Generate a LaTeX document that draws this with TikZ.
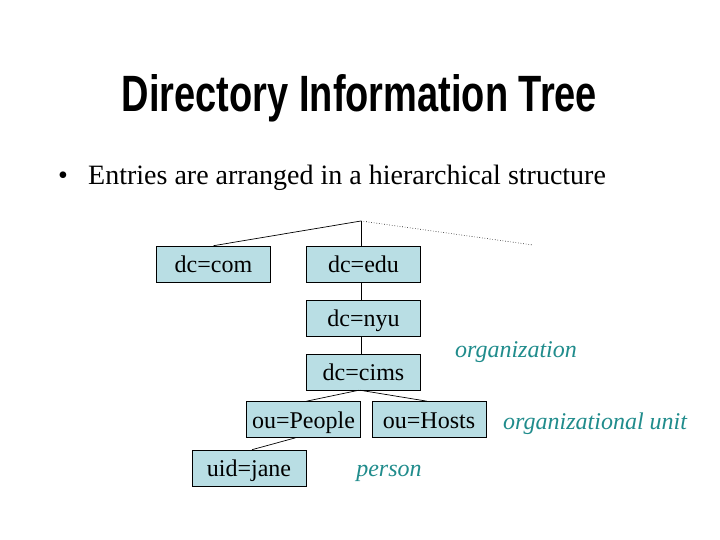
\documentclass[tikz,border=0pt]{standalone}
\usepackage{fontspec}
\setmainfont{Liberation Serif}
\newfontfamily\titlefont{Liberation Sans}
\usetikzlibrary{calc}
\definecolor{boxfill}{RGB}{185,222,228}
\definecolor{labelteal}{RGB}{32,140,140}
\tikzset{
  entry/.style={draw=black, line width=0.6pt, fill=boxfill, rectangle, minimum width=114pt, minimum height=36pt, inner sep=0pt, text height=17pt, text depth=0pt, font=\fontsize{24}{24}\selectfont},
  edge/.style={draw=black, line width=0.7pt},
  kind/.style={text=labelteal, font=\fontsize{24}{24}\selectfont\itshape, inner sep=0pt}
}
\begin{document}
\begin{tikzpicture}[x=1pt,y=-1pt]
\useasboundingbox (0,0) rectangle (720,540);
\fill[white] (0,0) rectangle (720,540);
% title
\node[anchor=base, inner sep=0pt] (title) at (359.5,112) {\resizebox{475pt}{37pt}{\titlefont\bfseries Directory Information Tree}};
% bullet
\node[anchor=base west, inner sep=0pt, font=\fontsize{28}{28}\selectfont] (bul) at (58,185) {\textbullet};
\node[anchor=base west, inner sep=0pt, font=\fontsize{28}{28}\selectfont] (btext) at (88,185) {Entries are arranged in a hierarchical structure};
% entries
\node[entry] (com) at (213.5,264) {dc=com};
\node[entry] (edu) at (363.5,264) {dc=edu};
\node[entry] (nyu) at (363.5,318) {dc=nyu};
\node[entry] (cims) at (363.5,372) {dc=cims};
\node[entry] (people) at (303.5,419.5) {ou=People};
\node[entry] (hosts) at (429,419.5) {ou=Hosts};
\node[entry] (jane) at (249,468) {uid=jane};
% labels
\node[kind] (org) at (516,352) {organization};
\node[kind, anchor=west] (ou) at (503,424) {organizational unit};
\node[kind] (per) at (389,473) {person};
% connectors
\coordinate (root) at (361,221);
\coordinate (more) at (533,245);
\draw[edge] (root) -- (com.north);
\draw[edge] (root) -- (root |- edu.north);
\draw[black, line width=0.6pt, dotted] (root) -- (more);
\draw[edge] (edu.south -| root) -- (nyu.north -| root);
\draw[edge] (nyu.south -| root) -- (cims.north -| root);
\draw[edge] ([xshift=-5pt]cims.south) -- ([xshift=3pt]people.north);
\draw[edge] ([xshift=-3pt]cims.south) -- ([xshift=-2pt]hosts.north);
\draw[edge] ([xshift=-8pt]people.south) -- ([xshift=3pt]jane.north);
\end{tikzpicture}
\end{document}
